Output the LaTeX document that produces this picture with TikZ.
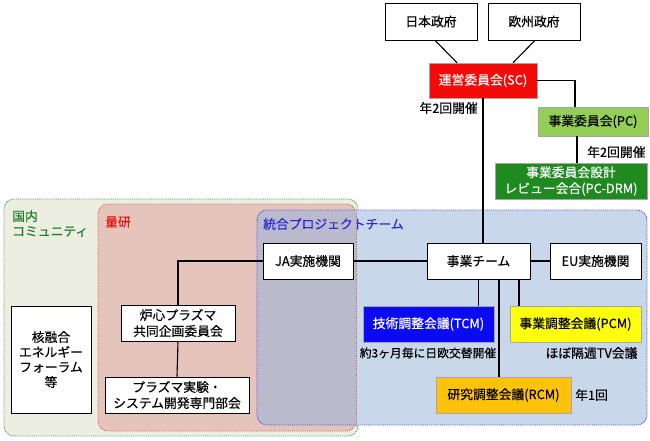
\documentclass[tikz,border=0pt]{standalone}
\usepackage{fontspec}
\setmainfont{Noto Sans CJK JP}[FakeBold=0.35]
\definecolor{grnfill}{HTML}{EBEEE1}
\definecolor{grnline}{HTML}{3C9C4C}
\definecolor{grntext}{HTML}{1E7E2A}
\definecolor{redfill}{HTML}{E5C4BB}
\definecolor{redline}{HTML}{E05A5A}
\definecolor{redtext}{HTML}{E41010}
\definecolor{bluefill}{HTML}{C9D7EA}
\definecolor{blueline}{HTML}{4848E0}
\definecolor{bluetext}{HTML}{2A2AD8}
\definecolor{ovfill}{HTML}{BBBACC}
\definecolor{scred}{HTML}{F50A0A}
\definecolor{pcgreen}{HTML}{93CF56}
\definecolor{drmgreen}{HTML}{1F8A1F}
\definecolor{tcmblue}{HTML}{0A0AF5}
\definecolor{pcmyellow}{HTML}{FFFF0A}
\definecolor{rcmorange}{HTML}{FFC20A}
\begin{document}
\begin{tikzpicture}[x=1pt,y=-1pt,
  every node/.style={font=\fontsize{12.8}{15}\selectfont, inner sep=0pt},
  box/.style={draw=black, line width=0.7pt, fill=white, align=center},
  cbox/.style={draw=black!35, line width=0.5pt, align=center},
  lbl/.style={text=black},
  conn/.style={line width=1.1pt, black},
  region/.style={line width=0.9pt, densely dotted, rounded corners=10pt}]
\useasboundingbox (0,0) rectangle (650,440);
% regions
\draw[region, draw=grnline, fill=grnfill] (4,199) rectangle (358,436);
\draw[region, draw=redline, fill=redfill] (98,204) rectangle (356,431);
\fill[rounded corners=10pt, bluefill] (257,210) rectangle (647,425);
\begin{scope}
  \clip[rounded corners=10pt] (98,204) rectangle (356,431);
  \fill[rounded corners=10pt, ovfill] (257,210) rectangle (647,425);
\end{scope}
\draw[region, draw=redline!70!gray] (356,212) -- (356,425);
\draw[region, draw=blueline] (257,210) rectangle (647,425);
% region labels
\node[anchor=north west, align=left, text=grntext] (lblkokunai) at (12,210) {国内\\コミュニティ};
\node[anchor=west, text=redtext] (lblryoken) at (105,222) {量研};
\node[anchor=west, text=bluetext] (lbltogo) at (263,224) {統合プロジェクトチーム};
% nodes
\node[box, minimum width=92, minimum height=37] (jp) at (431,21.5) {日本政府};
\node[box, minimum width=92, minimum height=37] (eugov) at (534,21.5) {欧州政府};
\node[cbox, fill=scred, text=white, minimum width=108, minimum height=35] (sc) at (483,80.5) {運営委員会(SC)};
\node[cbox, fill=pcgreen, minimum width=110, minimum height=29] (pc) at (593,121.5) {事業委員会(PC)};
\node[cbox, fill=drmgreen, text=white, minimum width=152, minimum height=36, font=\fontsize{12.8}{16}\selectfont] (drm) at (571,181) {事業委員会設計\\レビュー会合(PC-DRM)};
\node[box, minimum width=90, minimum height=36] (ja) at (308,261) {JA実施機関};
\node[box, minimum width=103, minimum height=36] (team) at (478.5,261) {事業チーム};
\node[box, minimum width=91, minimum height=36] (eu) at (595.5,261) {EU実施機関};
\node[box, minimum width=114, minimum height=36, font=\fontsize{12.8}{16}\selectfont] (roshin) at (178,323) {炉心プラズマ\\共同企画委員会};
\node[box, minimum width=144, minimum height=36, font=\fontsize{12.8}{16}\selectfont] (plasma) at (177,395) {プラズマ実験・\\システム開発専門部会};
\node[box, minimum width=80, minimum height=107] (forum) at (51,359.5) {核融合\\エネルギー\\フォーラム\\等};
\node[cbox, fill=tcmblue, text=white, minimum width=131, minimum height=36] (tcm) at (428.5,324) {技術調整会議(TCM)};
\node[cbox, fill=pcmyellow, minimum width=131, minimum height=36] (pcm) at (575.5,324) {事業調整会議(PCM)};
\node[cbox, fill=rcmorange, minimum width=135, minimum height=36] (rcm) at (503.5,395) {研究調整会議(RCM)};
% labels
\node[lbl, anchor=east] (lblsc) at (478,108) {年2回開催};
\node[lbl, anchor=west] (lblpc) at (587,152) {年2回開催};
\node[lbl, font=\fontsize{11.8}{14}\selectfont] (lbltcm) at (428,353) {約3ヶ月毎に日欧交替開催};
\node[lbl] (lblpcm) at (591.5,353) {ほぼ隔週TV会議};
\node[lbl, anchor=west] (lblrcm) at (575,395) {年1回};
% connectors
\draw[conn] ([xshift=4]jp.south) -- ([xshift=-26]sc.north);
\draw[conn] ([xshift=1]eugov.south) -- ([xshift=30]sc.north);
\draw[conn] (sc.east) -| ([xshift=-18]pc.north);
\draw[conn] (sc.south) -- (sc.south |- team.north);
\draw[conn] ([xshift=-16]pc.south) -- ([xshift=-16]pc.south |- drm.north);
\draw[conn] (ja.east) -- (team.west);
\draw[conn] (team.east) -- (eu.west);
\draw[conn] (ja.west) -| (roshin.north);
\draw[conn] (roshin.south) -- (plasma.north);
\draw[conn] (team.south) -- (team.south |- tcm.north);
\draw[conn] ([xshift=20.5]team.south) -- ([xshift=20.5]team.south |- rcm.north);
\draw[conn] ([xshift=40.5]team.south) -- ([xshift=40.5]team.south |- pcm.north);
\end{tikzpicture}
\end{document}
